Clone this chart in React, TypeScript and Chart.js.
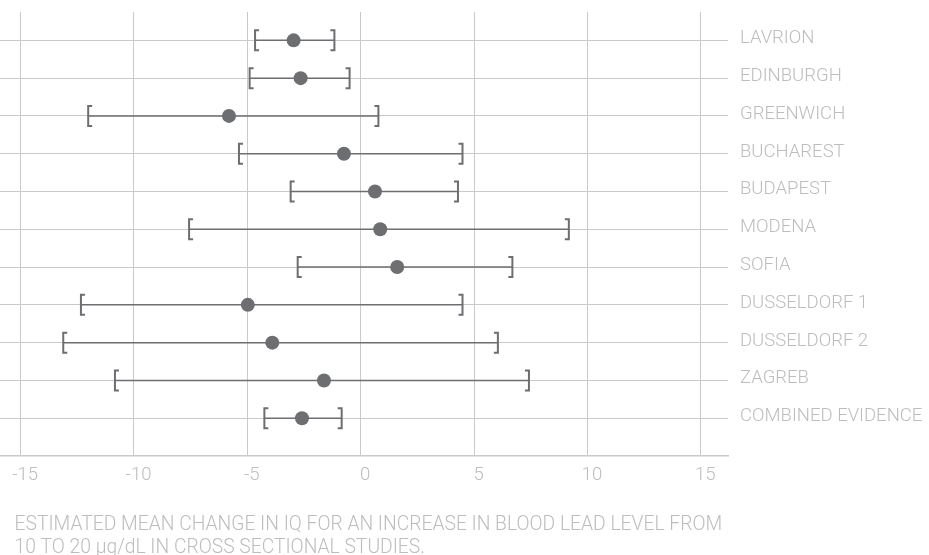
import React, { useEffect, useRef } from "react";
import { Chart, registerables } from "chart.js";

Chart.register(...registerables);

const categories = [
  "LAVRION",
  "EDINBURGH",
  "GREENWICH",
  "BUCHAREST",
  "BUDAPEST",
  "MODENA",
  "SOFIA",
  "DUSSELDORF 1",
  "DUSSELDORF 2",
  "ZAGREB",
  "COMBINED EVIDENCE",
];
const means = [-2.96, -2.65, -5.81, -0.74, 0.63, 0.86, 1.61, -4.98, -3.9, -1.62, -2.59];
const lows = [-4.66, -4.9, -12.02, -5.37, -3.09, -7.57, -2.78, -12.34, -13.12, -10.84, -4.25];
const highs = [-1.16, -0.49, 0.78, 4.49, 4.29, 9.18, 6.69, 4.49, 6.05, 7.42, -0.84];
const xTicks = [-15, -10, -5, 0, 5, 10, 15];
const titleLines = [
  "ESTIMATED MEAN CHANGE IN IQ FOR AN INCREASE IN BLOOD LEAD LEVEL FROM",
  "10 TO 20 \u00b5g/dL IN CROSS SECTIONAL STUDIES.",
];

const INK = "#6d6e71";
const GRID = "#c9c9cb";
const TEXT = "#bcbdbf";
const FONT = "Roboto, 'Liberation Sans', sans-serif";

export default function App() {
  const ref = useRef<HTMLCanvasElement | null>(null);

  useEffect(() => {
    if (!ref.current) return;

    const whiskers = {
      id: "whiskers",
      beforeDatasetsDraw(chart: any) {
        const { ctx, scales } = chart;
        const xs = scales.x;
        const ys = scales.y;
        ctx.save();
        ctx.strokeStyle = INK;
        for (let i = 0; i < categories.length; i++) {
          const y = ys.getPixelForValue(i);
          const x1 = xs.getPixelForValue(lows[i]);
          const x2 = xs.getPixelForValue(highs[i]);
          ctx.lineWidth = 1.5;
          ctx.beginPath();
          ctx.moveTo(x1, y);
          ctx.lineTo(x2, y);
          ctx.stroke();
          ctx.lineWidth = 2;
          const h = 10;
          const s = 4;
          ctx.beginPath();
          ctx.moveTo(x1 + s, y - h);
          ctx.lineTo(x1, y - h);
          ctx.lineTo(x1, y + h);
          ctx.lineTo(x1 + s, y + h);
          ctx.moveTo(x2 - s, y - h);
          ctx.lineTo(x2, y - h);
          ctx.lineTo(x2, y + h);
          ctx.lineTo(x2 - s, y + h);
          ctx.stroke();
        }
        ctx.restore();
      },
      afterDraw(chart: any) {
        const { ctx, scales } = chart;
        const ys = scales.y;
        ctx.save();
        ctx.fillStyle = TEXT;
        ctx.font = `300 18.5px ${FONT}`;
        ctx.textAlign = "left";
        ctx.textBaseline = "alphabetic";
        for (let i = 0; i < categories.length; i++) {
          const y = ys.getPixelForValue(i);
          ctx.fillText(categories[i], 740, y + 3);
        }
        ctx.font = `300 19.3px ${FONT}`;
        ctx.fillText(titleLines[0], 14.5, 530);
        ctx.fillText(titleLines[1], 14.5, 553);
        ctx.restore();
      },
    };

    const chart = new Chart(ref.current, {
      type: "scatter",
      data: {
        datasets: [
          {
            data: means.map((m, i) => ({ x: m, y: i })),
            backgroundColor: INK,
            borderWidth: 0,
            pointRadius: 7,
            pointHoverRadius: 7,
          },
        ],
      },
      options: {
        responsive: false,
        animation: false,
        events: [],
        layout: { autoPadding: false, padding: { left: 0, right: 201, top: 12, bottom: 69 } },
        plugins: {
          legend: { display: false },
          tooltip: { enabled: false },
          title: { display: false },
        },
        scales: {
          x: {
            type: "linear",
            min: -15.91,
            max: 16.2,
            afterBuildTicks: (scale: any) => {
              scale.ticks = xTicks.map((v) => ({ value: v }));
            },
            afterFit: (scale: any) => {
              scale.height = 30;
              scale.paddingLeft = 0;
              scale.paddingRight = 0;
            },
            grid: { color: GRID, lineWidth: 1, drawTicks: false },
            border: { display: true, color: GRID, width: 1.5 },
            ticks: {
              color: TEXT,
              font: { family: FONT, size: 18.5, weight: "300" as any },
              padding: 8,
              labelOffset: 4.5,
              maxRotation: 0,
              autoSkip: false,
            },
          },
          y: {
            type: "linear",
            position: "right",
            reverse: true,
            min: -0.75,
            max: 11,
            afterBuildTicks: (scale: any) => {
              scale.ticks = categories.map((_, i) => ({ value: i }));
            },
            afterFit: (scale: any) => {
              scale.width = 0;
              scale.paddingTop = 0;
              scale.paddingBottom = 0;
            },
            grid: { color: GRID, lineWidth: 1, drawTicks: false },
            border: { display: false },
            ticks: { display: false },
          },
        },
      },
      plugins: [whiskers],
    });

    return () => chart.destroy();
  }, []);

  return (
    <div style={{ position: "absolute", left: 0, top: 0, width: 929, height: 555, background: "#fff" }}>
      <canvas ref={ref} width={929} height={555} style={{ display: "block" }} />
    </div>
  );
}
